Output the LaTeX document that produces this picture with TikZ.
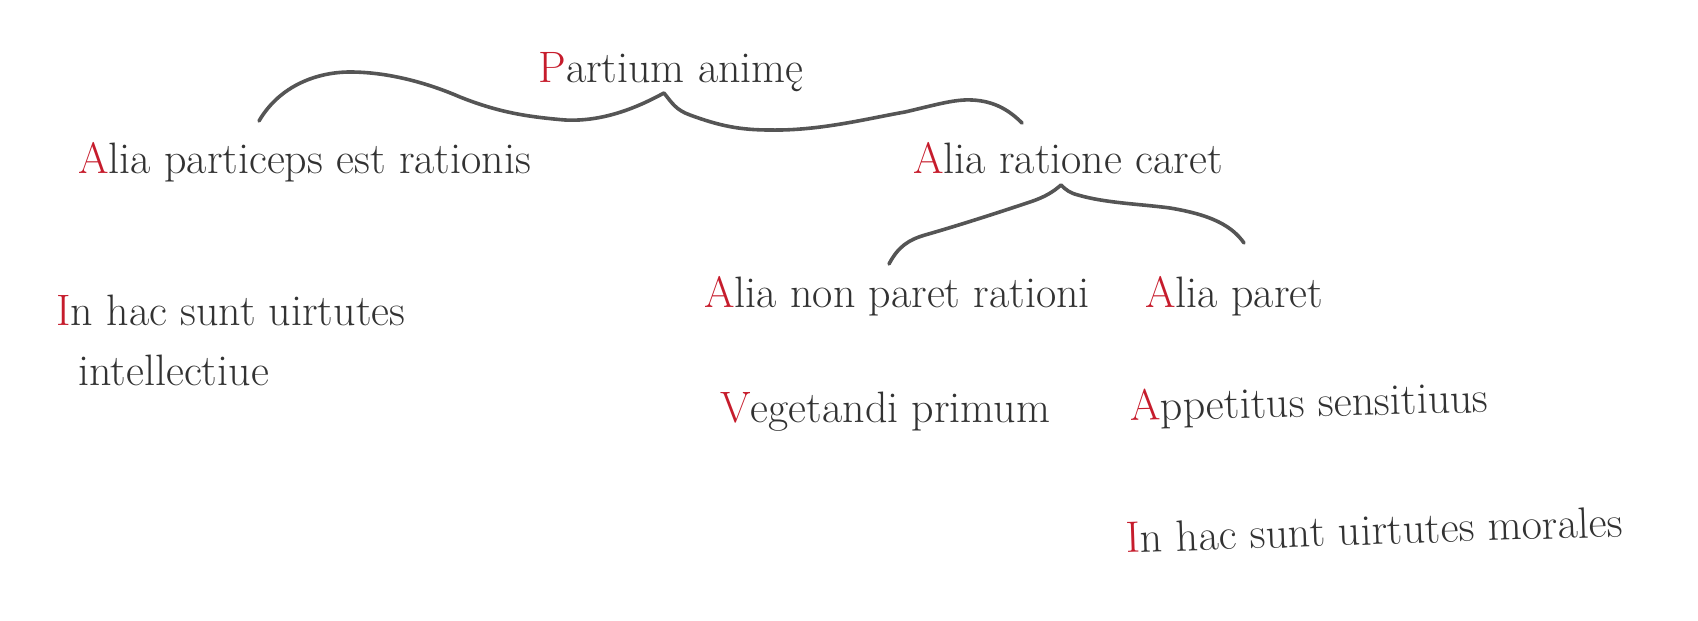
\documentclass[tikz,border=0pt]{standalone}
\usepackage{fontspec}
\definecolor{txt}{RGB}{50,50,50}
\definecolor{ini}{RGB}{198,28,44}
\definecolor{brc}{RGB}{85,85,85}
\newcommand{\ini}[1]{\textcolor{ini}{#1}}
\begin{document}
\begin{tikzpicture}[x=0.5pt,y=-0.5pt,
  lbl/.style={anchor=base west,inner sep=0pt,text=txt,font=\fontsize{22}{26}\selectfont},
  brace/.style={draw=brc,line width=1.8pt,line cap=round,line join=round}]
\useasboundingbox (0,0) rectangle (1698,621);
\node[lbl] (root) at (538,82) {\ini{P}artium animę};
\node[lbl] (rat) at (78,173) {\ini{A}lia particeps est rationis};
\node[lbl] (car) at (913,173) {\ini{A}lia ratione caret};
\node[lbl] (non) at (704,307) {\ini{A}lia non paret rationi};
\node[lbl] (par) at (1145,307) {\ini{A}lia paret};
\node[lbl] (int1) at (56,325) {\ini{I}n hac sunt uirtutes};
\node[lbl] (int2) at (78,385) {intellectiue};
\node[lbl] (veg) at (720,422) {\ini{V}egetandi primum};
\node[lbl,rotate=1.4] (app) at (1130,421) {\ini{A}ppetitus sensitiuus};
\node[lbl,rotate=1.9] (mor) at (1126,553) {\ini{I}n hac sunt uirtutes morales};
% brace 1
\coordinate (b1l) at (259,121);
\coordinate (b1t) at (664,93);
\coordinate (b1r) at (1022,123);
\path[brace] (b1l) .. controls (280,85) and (318,72) .. (350,72)
  .. controls (390,72) and (430,84) .. (460,97)
  .. controls (500,113) and (530,117) .. (565,120)
  .. controls (605,122) and (640,106) .. (b1t)
  .. controls (672,103) and (676,110) .. (690,115)
  .. controls (720,126) and (740,130) .. (770,130)
  .. controls (820,131) and (870,118) .. (905,112)
  .. controls (935,105) and (955,99) .. (972,100)
  .. controls (995,101) and (1010,111) .. (b1r);
% brace 2
\coordinate (b2l) at (889,264);
\coordinate (b2t) at (1061,185);
\coordinate (b2r) at (1244,243);
\path[brace] (b2l) .. controls (898,247) and (908,240) .. (925,235)
  .. controls (960,225) and (1000,212) .. (1030,202)
  .. controls (1045,197) and (1053,192) .. (b2t)
  .. controls (1066,190) and (1070,193) .. (1078,195)
  .. controls (1105,203) and (1140,204) .. (1170,208)
  .. controls (1212,215) and (1232,226) .. (b2r);
\end{tikzpicture}
\end{document}
